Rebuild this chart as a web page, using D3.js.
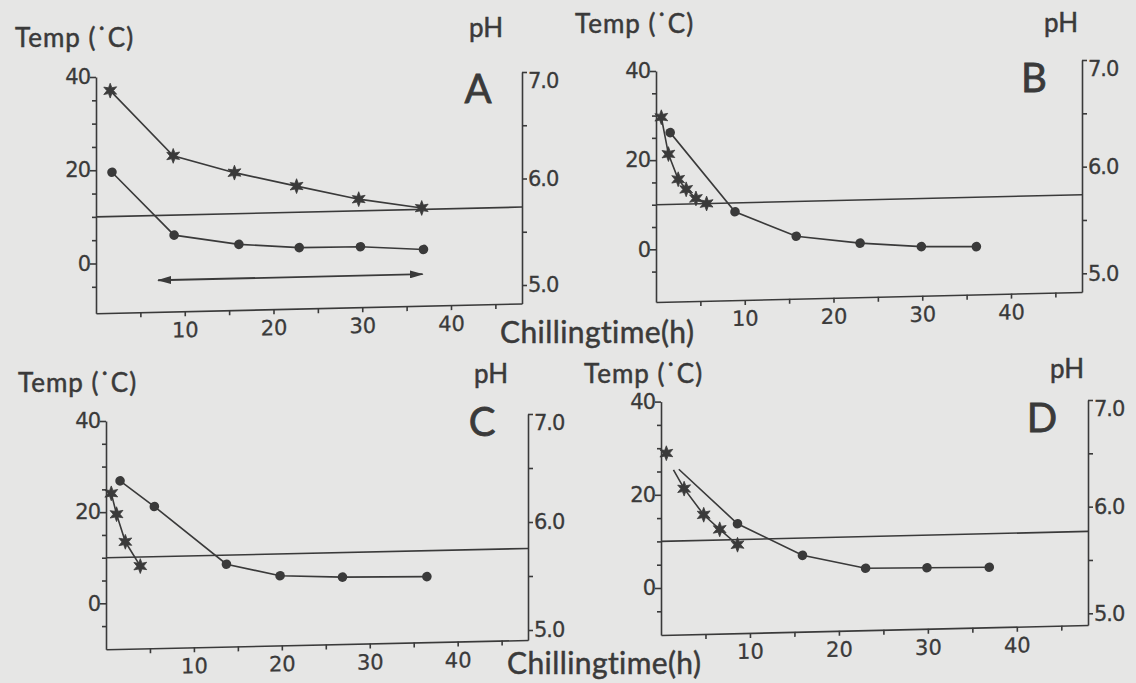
<!DOCTYPE html>
<html>
<head>
<meta charset="utf-8">
<script src="https://cdn.jsdelivr.net/npm/d3@7"></script>
<style>
  body { margin: 0; background: #e6e6e5; }
  svg { display: block; }
  text { font-family: Lato, "Open Sans", sans-serif; fill: #3a3a3a; stroke: #3a3a3a; stroke-width: 0.5px; }
  .axis path, .axis line { stroke: #3a3a3a; stroke-width: 1.6px; }
  .axis text { font-family: "DejaVu Sans", sans-serif; font-size: 21px; letter-spacing: -1px; stroke-width: 0.3px; }
</style>
</head>
<body>
<div class="graph"></div>
<script>
// chilling time (h) against carcass temperature (°C); stars and dots are the two measured series
let panels = ["A", "B", "C", "D"];

let starTimeA = [1.6, 8.7, 15.6, 22.6, 29.6, 36.7];
let starTempA = [37.0, 22.7, 18.8, 15.6, 12.5, 10.3];
let dotTimeA = [1.8, 8.8, 16.1, 22.9, 29.8, 36.9];
let dotTempA = [19.5, 5.7, 3.4, 2.4, 2.3, 1.4];

let starTimeB = [0.6, 1.4, 2.5, 3.4, 4.5, 5.7];
let starTempB = [29.6, 21.3, 15.6, 13.3, 11.2, 10.0];
let dotTimeB = [1.6, 8.9, 15.8, 23.0, 29.9, 36.1];
let dotTempB = [26.1, 8.0, 2.2, 0.3, -0.8, -1.1];

let starTimeC = [0.6, 1.2, 2.2, 3.9];
let starTempC = [24.1, 19.5, 13.4, 8.0];
let dotTimeC = [1.6, 5.5, 13.7, 19.8, 26.9, 36.5];
let dotTempC = [26.8, 21.0, 8.0, 5.2, 4.6, 4.3];

// panel D: first star stands alone, both lines begin at an unmarked point
let starTimeD = [0.6, 1.4, 2.6, 4.8, 6.6, 8.6];
let starTempD = [28.9, 25.3, 21.2, 15.5, 12.3, 8.9];
let dotTimeD = [2.0, 8.6, 15.9, 23.0, 29.9, 36.9];
let dotTempD = [25.4, 13.4, 6.3, 3.2, 3.0, 2.8];

let refTemp = 10;               // horizontal 10 °C line
let arrowA = [7.0, 36.8];       // chilling period arrow in A (h)
let arrowTempA = -3.9;

let timeTicks = [5, 10, 15, 20, 25, 30, 35, 40, 45];
let timeLabels = [10, 20, 30, 40];
let tempTicks = [-5, 0, 5, 10, 15, 20, 25, 30, 35, 40];
let tempLabels = [0, 20, 40];
let phTicks = [5.0, 5.5, 6.0, 6.5, 7.0];
let phLabels = [5.0, 6.0, 7.0];

let series = {
    A: {star: [starTimeA, starTempA], dot: [dotTimeA, dotTempA]},
    B: {star: [starTimeB, starTempB], dot: [dotTimeB, dotTempB]},
    C: {star: [starTimeC, starTempC], dot: [dotTimeC, dotTempC]},
    D: {star: [starTimeD, starTempD], dot: [dotTimeD, dotTempD]}
};
// which points carry no marker, and where each line starts
let unmarked = {D: {star: [1], dot: [0]}};
let lineFrom = {D: {star: 1, dot: 0}};

// page layout of each panel (screen px)
let layout = {
    A: {left: 96, right: 522, y0: 263.5, y40: 77, bottom: 313.3, ph7: 72, ph5: 285, skew: 1.32,
        temp: [15, 47], ph: [469, 37], letter: [478, 103]},
    B: {left: 656, right: 1082, y0: 249.3, y40: 71, bottom: 302, ph7: 60, ph5: 273.3, skew: 1.35,
        temp: [575, 33], ph: [1044, 32], letter: [1034, 92]},
    C: {left: 106, right: 528, y0: 603.3, y40: 421, bottom: 649.3, ph7: 414, ph5: 630, skew: 1.26,
        temp: [18, 392], ph: [474, 383], letter: [482, 436]},
    D: {left: 661, right: 1088, y0: 588, y40: 401.6, bottom: 635, ph7: 400, ph5: 613.3, skew: 1.34,
        temp: [584, 383], ph: [1050, 378], letter: [1042, 432]}
};
let xLabelPos = [[500, 343], [507, 674]];

const ink = "#3a3a3a";

// six pointed star marker
const star6 = {
    draw(ctx, size) {
        let r = Math.sqrt(size), ri = r * 0.45;
        for (let i = 0; i < 12; i++) {
            let a = i * Math.PI / 6 - Math.PI / 2;
            let rr = i % 2 ? ri : r;
            if (i === 0) ctx.moveTo(rr * Math.cos(a), rr * Math.sin(a));
            else ctx.lineTo(rr * Math.cos(a), rr * Math.sin(a));
        }
        ctx.closePath();
    }
};

let svg = d3.select(".graph").append("svg")
    .attr("width", 1136)
    .attr("height", 683);

let defs = svg.append("defs");
defs.append("marker")
    .attr("id", "head")
    .attr("viewBox", "0 0 14 8")
    .attr("refX", 13).attr("refY", 4)
    .attr("markerWidth", 14).attr("markerHeight", 8)
    .attr("markerUnits", "userSpaceOnUse")
    .attr("orient", "auto-start-reverse")
    .append("path")
    .attr("d", "M0,0L14,4L0,8Z")
    .attr("fill", ink);

function draw_panel(key) {
    let L = layout[key];
    let W = L.right - L.left;
    let tan = Math.tan(L.skew * Math.PI / 180);

    let x = d3.scaleLinear().domain([0, 48]).range([0, W]);
    let y = d3.scaleLinear().domain([0, 40]).range([L.y0, L.y40]);
    y.domain([y.invert(L.bottom), 40]).range([L.bottom, L.y40]);

    let rightBottom = L.bottom - tan * W;
    let ph = d3.scaleLinear().domain([5, 7]).range([L.ph5, L.ph7]);
    ph.domain([ph.invert(rightBottom), 7]).range([rightBottom, L.ph7]);

    let g = svg.append("g").attr("transform", "translate(" + L.left + ",0)");
    // the printed panels lean a little: bottom axis and plotted data are sheared
    let sk = g.append("g").attr("transform", "skewY(" + (-L.skew) + ")");

    // left axis
    g.append("g")
        .attr("class", "axis")
        .call(d3.axisLeft(y)
            .tickValues(tempTicks)
            .tickSize(5)
            .tickSizeOuter(0)
            .tickPadding(1)
            .tickFormat(d => tempLabels.includes(d) ? d : ""))
        .call(a => a.selectAll(".tick line").attr("x2", d => tempLabels.includes(d) ? -6 : -4));

    // right axis (pH)
    g.append("g")
        .attr("class", "axis")
        .attr("transform", "translate(" + W + ",0)")
        .call(d3.axisRight(ph)
            .tickValues(phTicks)
            .tickSize(5)
            .tickSizeOuter(0)
            .tickPadding(1)
            .tickFormat(d => phLabels.includes(d) ? d3.format(".1f")(d) : ""))
        .call(a => a.selectAll(".tick text").attr("dy", d => d === 7 ? "0.75em" : "0.32em"));

    // bottom axis
    sk.append("g")
        .attr("class", "axis")
        .attr("transform", "translate(0," + L.bottom + ")")
        .call(d3.axisBottom(x)
            .tickValues(timeTicks)
            .tickSize(5)
            .tickSizeOuter(0)
            .tickPadding(6)
            .tickFormat(d => timeLabels.includes(d) ? d : ""))
        .call(a => a.selectAll(".tick text").style("letter-spacing", "0px"));

    // 10 °C line
    sk.append("line")
        .attr("x1", x(0)).attr("x2", x(48))
        .attr("y1", y(refTemp)).attr("y2", y(refTemp))
        .attr("stroke", ink).attr("stroke-width", 1.6);

    let line = d3.line().x(d => x(d[0])).y(d => y(d[1]));
    ["dot", "star"].forEach(function (s) {
        let pts = d3.zip(series[key][s][0], series[key][s][1]);
        let from = lineFrom[key] ? lineFrom[key][s] : 0;
        let skip = unmarked[key] ? unmarked[key][s] : [];
        sk.append("path")
            .attr("d", line(pts.slice(from)))
            .attr("fill", "none")
            .attr("stroke", ink)
            .attr("stroke-width", 1.6);
        let marked = pts.filter((d, i) => !skip.includes(i));
        if (s === "dot") {
            sk.selectAll(".dot" + key)
                .data(marked)
                .enter().append("circle")
                .attr("cx", d => x(d[0]))
                .attr("cy", d => y(d[1]))
                .attr("r", 4.8)
                .attr("fill", ink);
        } else {
            sk.selectAll(".star" + key)
                .data(marked)
                .enter().append("path")
                .attr("d", d3.symbol().type(star6).size(55))
                .attr("transform", d => "translate(" + x(d[0]) + "," + y(d[1]) + ")")
                .attr("fill", ink)
                .attr("stroke", ink)
                .attr("stroke-width", 0.8);
        }
    });

    if (key === "A") {
        sk.append("line")
            .attr("x1", x(arrowA[0])).attr("x2", x(arrowA[1]))
            .attr("y1", y(arrowTempA)).attr("y2", y(arrowTempA))
            .attr("stroke", ink).attr("stroke-width", 1.8)
            .attr("marker-start", "url(#head)")
            .attr("marker-end", "url(#head)");
    }

    // titles
    svg.append("text")
        .attr("x", L.temp[0]).attr("y", L.temp[1])
        .style("font-size", "26px")
        .style("letter-spacing", "1px")
        .text("Temp (˙C)");
    svg.append("text")
        .attr("x", L.ph[0]).attr("y", L.ph[1])
        .style("font-size", "26px")
        .text("pH");
    svg.append("text")
        .attr("x", L.letter[0]).attr("y", L.letter[1])
        .attr("text-anchor", "middle")
        .style("font-size", "40px")
        .style("stroke-width", "0.8px")
        .text(key);
}

panels.forEach(draw_panel);

svg.selectAll(".xlabel")
    .data(xLabelPos)
    .enter().append("text")
    .attr("x", d => d[0])
    .attr("y", d => d[1])
    .style("font-size", "30px")
    .style("letter-spacing", "0.4px")
    .text("Chillingtime(h)");
</script>
</body>
</html>
